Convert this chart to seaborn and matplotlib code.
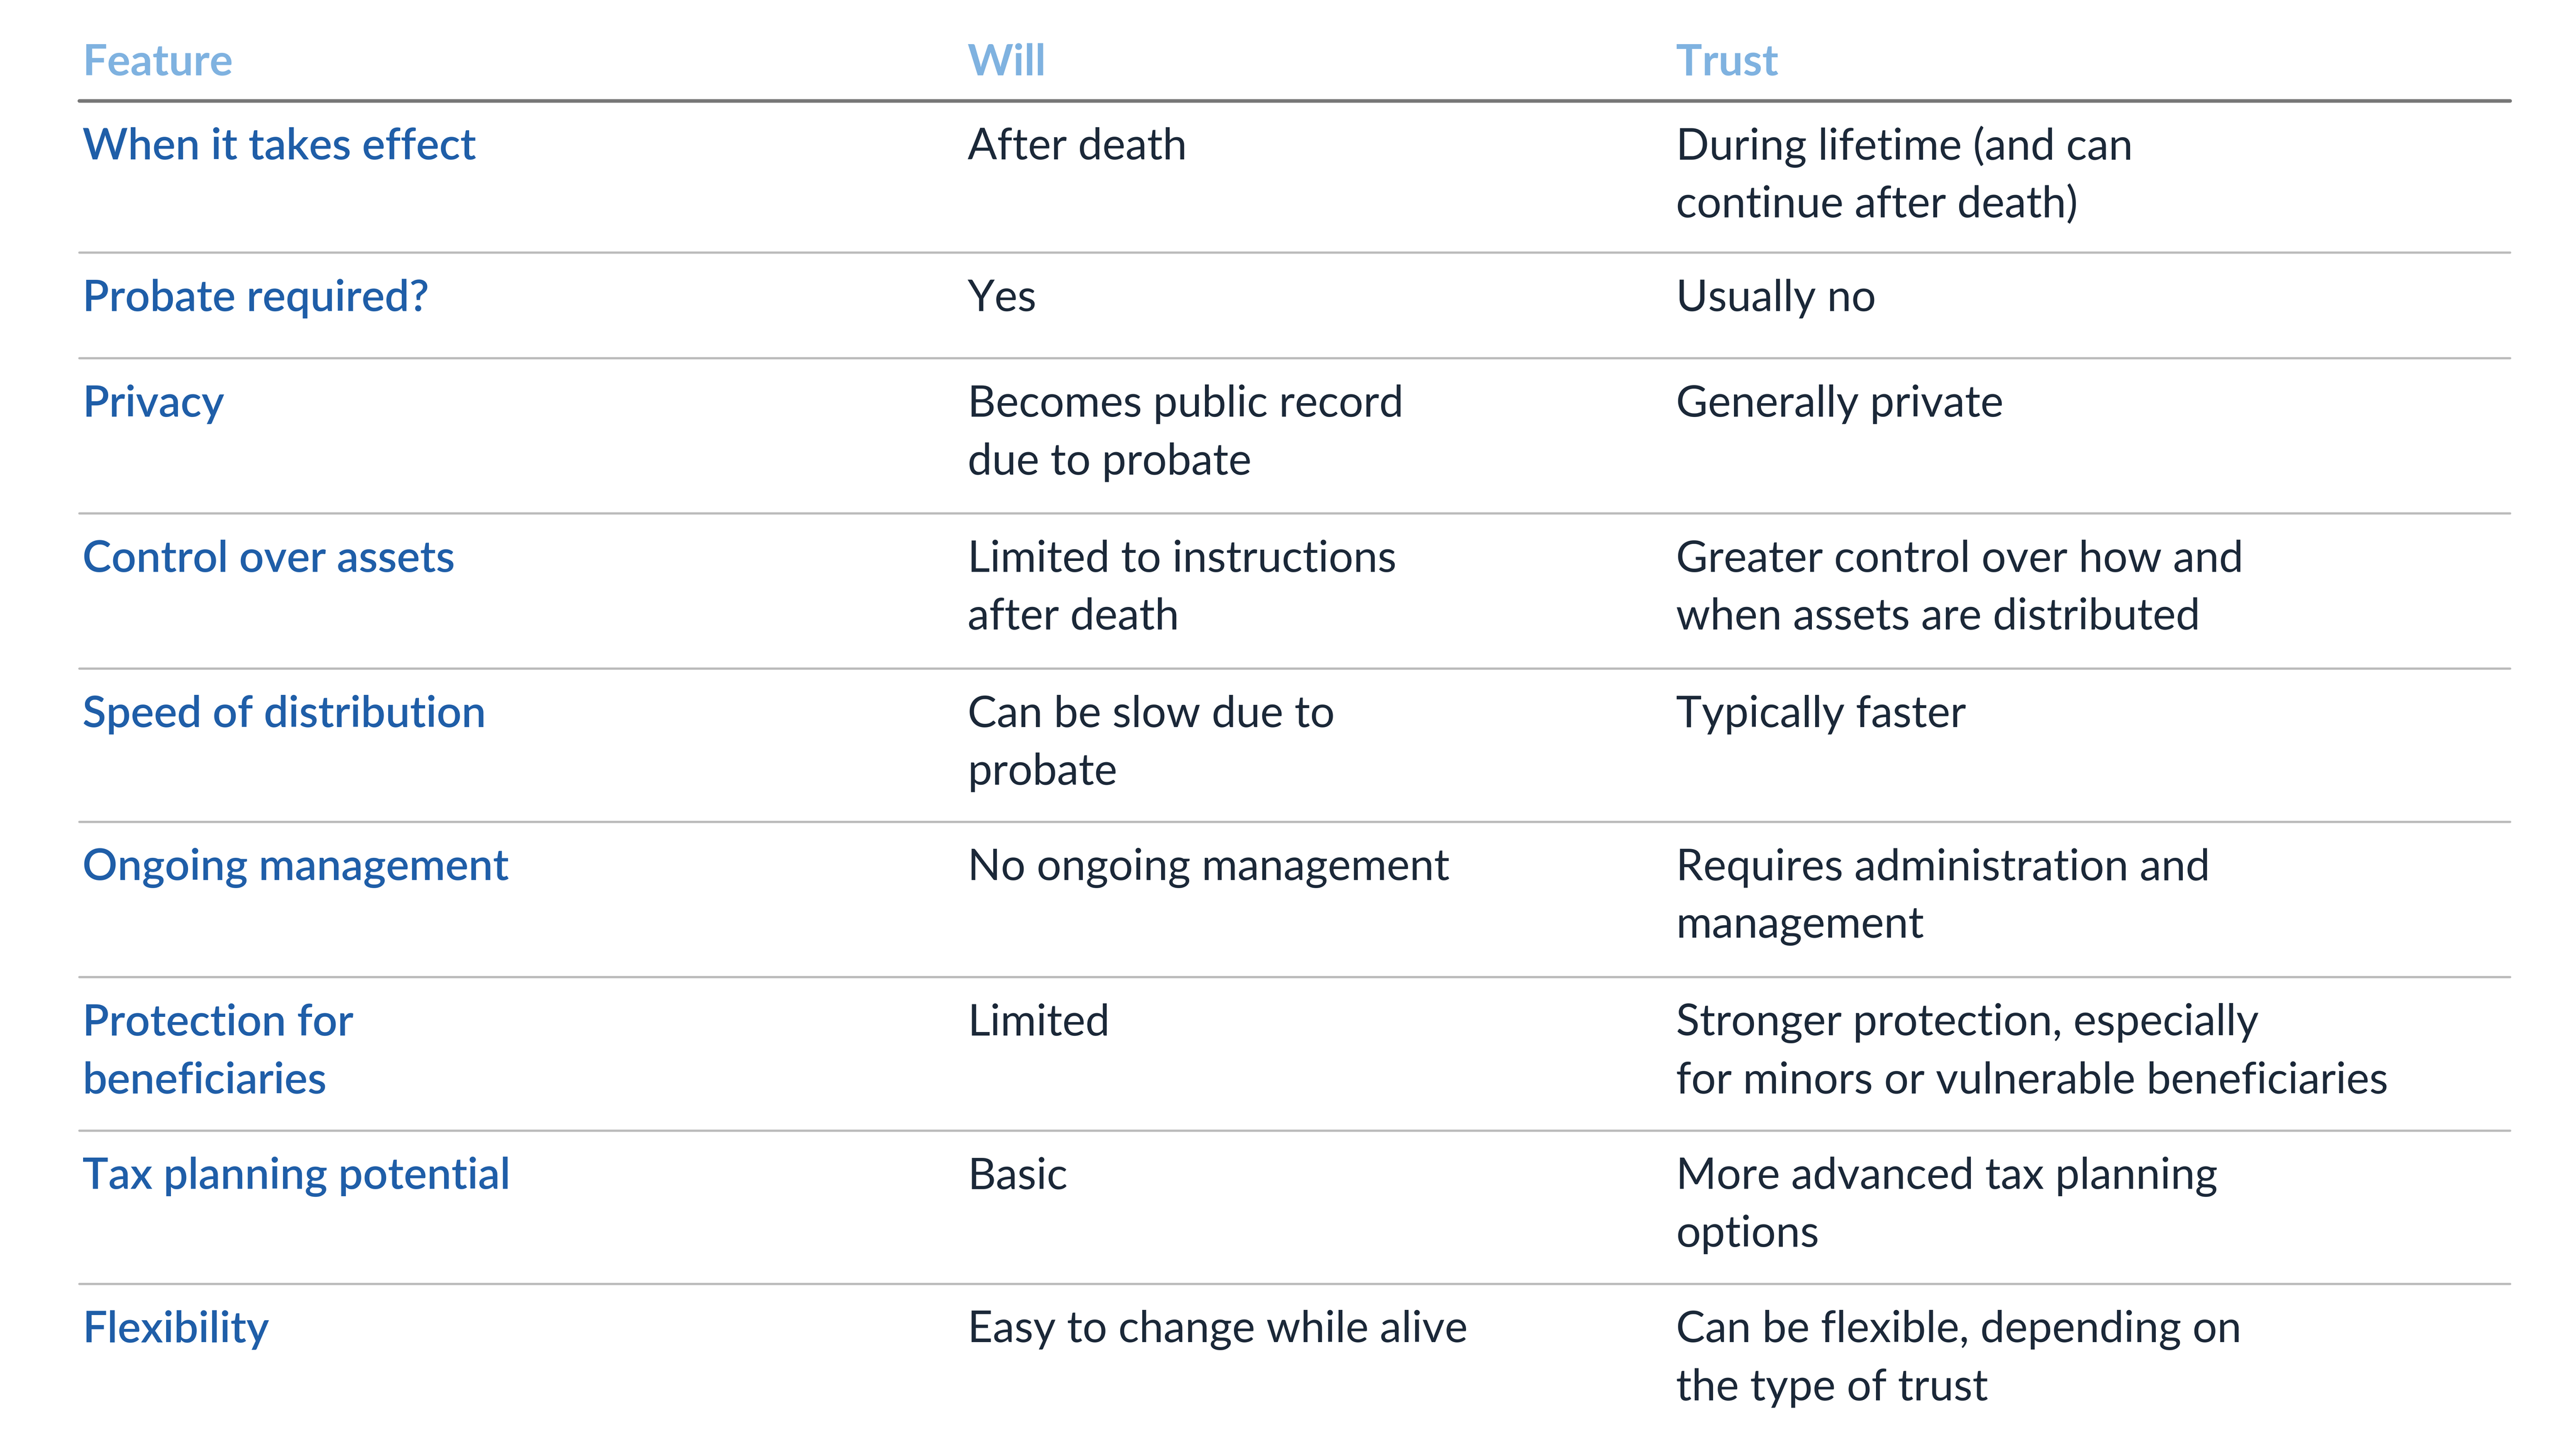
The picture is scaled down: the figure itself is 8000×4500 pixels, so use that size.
import matplotlib
matplotlib.use("Agg")
import matplotlib.pyplot as plt
import seaborn as sns

headers = ["Feature", "Will", "Trust"]
features = ["When it takes effect", "Probate required?", "Privacy", "Control over assets",
            "Speed of distribution", "Ongoing management", "Protection for\nbeneficiaries",
            "Tax planning potential", "Flexibility"]
will = ["After death", "Yes", "Becomes public record\ndue to probate", "Limited to instructions\nafter death",
        "Can be slow due to\nprobate", "No ongoing management", "Limited", "Basic",
        "Easy to change while alive"]
trust = ["During lifetime (and can\ncontinue after death)", "Usually no", "Generally private",
         "Greater control over how and\nwhen assets are distributed", "Typically faster",
         "Requires administration and\nmanagement",
         "Stronger protection, especially\nfor minors or vulnerable beneficiaries",
         "More advanced tax planning\noptions", "Can be flexible, depending on\nthe type of trust"]

sns.set_theme(style="white")
plt.rcParams['font.family'] = ['Lato', 'DejaVu Sans']

fig = plt.figure(figsize=(16, 9), dpi=500)
ax = fig.add_axes([0, 0, 1, 1])
ax.set_xlim(0, 1560)
ax.set_ylim(878, 0)
ax.axis("off")

cols = [50, 586, 1015]
lines = [61, 153, 217, 311, 405, 498, 592, 685, 778]
fs = 19.5
hdr_c = "#7fb2e0"
feat_c = "#1f5ea8"
body_c = "#1b2838"

for x, h in zip(cols, headers):
    ax.text(x, 38, h, color=hdr_c, fontsize=fs, fontweight="bold", va="center", ha="left")
ax.plot([48, 1520], [61, 61], color="#777777", lw=1.6)
for y in lines[1:]:
    ax.plot([48, 1520], [y, y], color="#bbbbbb", lw=1.0)

for i in range(len(features)):
    y0 = lines[i] + 28
    for x, txt, c, w in [(cols[0], features[i], feat_c, "semibold"),
                         (cols[1], will[i], body_c, "normal"),
                         (cols[2], trust[i], body_c, "normal")]:
        for j, ln in enumerate(txt.split("\n")):
            ax.text(x, y0 + 35 * j, ln, color=c, fontsize=fs, fontweight=w, va="center", ha="left")

fig.savefig("out.png", dpi=500, facecolor="white")
